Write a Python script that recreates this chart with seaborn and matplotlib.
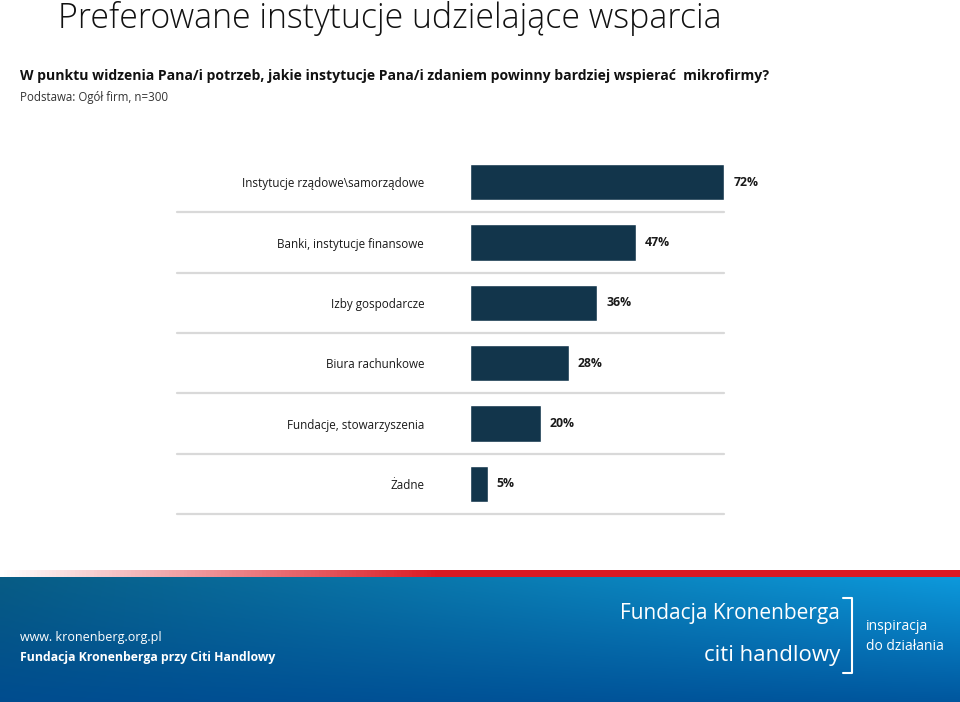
import matplotlib
matplotlib.use("Agg")
import matplotlib.pyplot as plt
import seaborn as sns
import numpy as np
import pandas as pd

# dane z wykresu
kategorie = [
    "Instytucje rządowe\\samorządowe",
    "Banki, instytucje finansowe",
    "Izby gospodarcze",
    "Biura rachunkowe",
    "Fundacje, stowarzyszenia",
    "Żadne",
]
procenty = [72, 47, 36, 28, 20, 5]

tytul = "Preferowane instytucje udzielające wsparcia"
pytanie = "W punktu widzenia Pana/i potrzeb, jakie instytucje Pana/i zdaniem powinny bardziej wspierać  mikrofirmy?"
podstawa = "Podstawa: Ogół firm, n=300"

KOLOR_SLUPKA = "#12354b"
KOLOR_LINII = "#d9d9d9"

sns.set_style("white")
plt.rcParams['font.family'] = ['Open Sans', 'DejaVu Sans']

W, H = 960, 702
fig = plt.figure(figsize=(W / 100, H / 100), dpi=100)

def px(x0, y0, x1, y1):
    # prostokat w pikselach -> wspolrzedne figury
    return [x0 / W, 1 - y1 / H, (x1 - x0) / W, (y1 - y0) / H]

# --- wykres ---
ax = fig.add_axes(px(470, 152, 724, 514))
df = pd.DataFrame({"kategoria": kategorie, "procent": procenty})
sns.barplot(data=df, x="procent", y="kategoria", orient="h", color=KOLOR_SLUPKA,
            width=0.6, saturation=1, ax=ax)
ax.set_xlim(0, 72)
ax.set_ylim(len(kategorie) - 0.5, -0.5)
ax.set_xlabel("")
ax.set_ylabel("")
ax.set_xticks([])
for s in ax.spines.values():
    s.set_visible(False)
ax.tick_params(axis="y", length=0, pad=33, labelsize=8.4, labelcolor="#1a1a1a")

for i, v in enumerate(procenty):
    ax.text(v + 2.6, i, f"{v}%", va="center", ha="left", fontsize=8.8,
            fontweight="bold", color="#1a1a1a", clip_on=False)
    ax.axhline(i + 0.5, xmin=-293 / 254, xmax=1, color=KOLOR_LINII, lw=1.6,
               clip_on=False)

# --- teksty naglowka ---
fig.text(58 / W, 1 - 19 / H, tytul, fontsize=24.4, va="center", ha="left",
         color="#111111", fontweight="light")
fig.text(20 / W, 1 - 76 / H, pytanie, fontsize=10.1, va="center", ha="left",
         fontweight="bold", color="#111111")
fig.text(20 / W, 1 - 98 / H, podstawa, fontsize=8.3, va="center", ha="left",
         color="#333333")

# --- stopka ---
axr = fig.add_axes(px(0, 570, 960, 577))
gx = np.linspace(0, 1, 256)
red = np.ones((1, 256, 4))
red[..., 0] = 0.86
red[..., 1] = 0.10
red[..., 2] = 0.14
red[..., 3] = np.clip(gx * 2.2, 0, 1)
axr.imshow(red, aspect="auto", extent=[0, 1, 0, 1])
axr.set_axis_off()

axf = fig.add_axes(px(0, 577, 960, 702))
xx, yy = np.meshgrid(np.linspace(0, 1, 200), np.linspace(0, 1, 100))
lewy_gora = np.array([0.03, 0.36, 0.52])
prawy_gora = np.array([0.05, 0.60, 0.86])
lewy_dol = np.array([0.00, 0.30, 0.56])
prawy_dol = np.array([0.00, 0.34, 0.62])
gora = lewy_gora[None, None, :] * (1 - xx[..., None]) + prawy_gora[None, None, :] * xx[..., None]
dol = lewy_dol[None, None, :] * (1 - xx[..., None]) + prawy_dol[None, None, :] * xx[..., None]
t = yy[..., None]
img = gora * (1 - t) + dol * t
img = np.clip(img, 0, 1)
axf.imshow(img, aspect="auto", extent=[0, 1, 0, 1], origin="upper")
axf.set_axis_off()

fig.text(20 / W, 1 - 638 / H, "www. kronenberg.org.pl", fontsize=9,
         color="white", va="center", ha="left")
fig.text(20 / W, 1 - 658 / H, "Fundacja Kronenberga przy Citi Handlowy", fontsize=8.8,
         color="white", va="center", ha="left", fontweight="bold")
fig.text(840 / W, 1 - 614 / H, "Fundacja Kronenberga", fontsize=15, color="white",
         va="center", ha="right")
fig.text(840 / W, 1 - 655 / H, "citi handlowy", fontsize=16, color="white",
         va="center", ha="right")
fig.text(866 / W, 1 - 626 / H, "inspiracja", fontsize=10, color="white",
         va="center", ha="left")
fig.text(866 / W, 1 - 646 / H, "do działania", fontsize=10, color="white",
         va="center", ha="left")
fig.add_artist(plt.Line2D([843 / W, 852 / W, 852 / W, 843 / W],
                          [1 - 598 / H, 1 - 598 / H, 1 - 673 / H, 1 - 673 / H],
                          color="white", lw=1.5))

fig.savefig("out.png", dpi=100)
